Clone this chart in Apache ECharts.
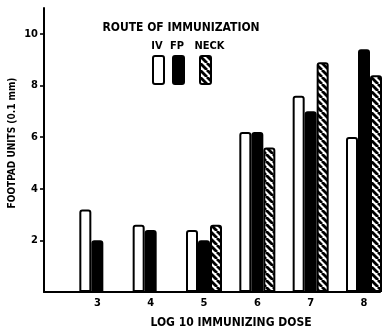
<!DOCTYPE html>
<html>
<head>
<meta charset="utf-8">
<script src="https://cdn.jsdelivr.net/npm/echarts@6/dist/echarts.min.js"></script>
<style>
html,body{margin:0;padding:0;background:#fff;}
#c{width:383px;height:330px;}
</style>
</head>
<body>
<div id="c"></div>
<script>
// ---- data ----
const doses = [3, 4, 5, 6, 7, 8];
const ivValues = [3.2, 2.6, 2.4, 6.2, 7.6, 6.0];
const fpValues = [2.0, 2.4, 2.0, 6.2, 7.0, 9.4];
const neckValues = [null, null, 2.6, 5.6, 8.9, 8.4];
const yTicks = [2, 4, 6, 8, 10];
const seriesNames = ['IV', 'FP', 'NECK'];
const legendTitle = 'ROUTE OF IMMUNIZATION';
const yName = 'FOOTPAD UNITS (0.1 mm)';
const xName = 'LOG 10 IMMUNIZING DOSE';

function pairs(vals) {
  return doses.map((d, i) => [d, vals[i]]).filter(p => p[1] !== null);
}

// hatch pattern
const P = 7;
const pc = document.createElement('canvas');
pc.width = P; pc.height = P;
const g = pc.getContext('2d');
g.fillStyle = '#fff'; g.fillRect(0, 0, P, P);
g.strokeStyle = '#000'; g.lineWidth = 2.8;
for (const o of [-P, 0, P]) {
  g.beginPath(); g.moveTo(o, 0); g.lineTo(o + P, P); g.stroke();
}
const hatch = { image: pc, repeat: 'repeat' };

const FONT = 'DejaVu Sans Condensed';
const bw = 12;
const border = { borderColor: '#000', borderWidth: 2, borderRadius: [2, 2, 0, 0] };
const boxIcon = 'path://M2,0H9Q11,0 11,2V26Q11,28 9,28H2Q0,28 0,26V2Q0,0 2,0Z';

const chart = echarts.init(document.getElementById('c'), null, { renderer: 'canvas' });
chart.setOption({
  animation: false,
  backgroundColor: '#fff',
  grid: { left: 44, right: 3, top: 8, bottom: 38, containLabel: false, outerBoundsMode: 'none' },
  xAxis: {
    type: 'value', min: 2, max: 8.3, interval: 1,
    splitLine: { show: false },
    axisLine: { show: true, lineStyle: { color: '#000', width: 2 } },
    axisTick: { show: false },
    axisLabel: {
      customValues: doses, color: '#000', fontWeight: 'bold', fontSize: 11,
      fontFamily: FONT, margin: 6
    },
    name: xName, nameLocation: 'middle', nameGap: 25,
    nameTextStyle: { color: '#000', fontWeight: 'bold', fontSize: 12, fontFamily: FONT, padding: [0, 0, 0, 38] }
  },
  yAxis: {
    type: 'value', min: 0, max: 11, interval: 2,
    splitLine: { show: false },
    axisLine: { show: true, lineStyle: { color: '#000', width: 2 } },
    axisTick: { show: true, customValues: yTicks, length: 4, lineStyle: { color: '#000', width: 1.6 } },
    axisLabel: {
      customValues: yTicks, color: '#000', fontWeight: 'bold', fontSize: 11,
      fontFamily: FONT, margin: 6
    },
    name: yName, nameLocation: 'middle', nameGap: 27, nameRotate: 90, nameMoveOverlap: false,
    nameTextStyle: { color: '#000', fontWeight: 'bold', fontSize: 10, fontFamily: FONT, padding: [0, 0, 0, 14] }
  },
  legend: [
    { data: [seriesNames[0]], left: 152, top: 55 },
    { data: [seriesNames[1]], left: 172, top: 55 },
    { data: [seriesNames[2]], left: 199, top: 55 }
  ].map(l => Object.assign(l, {
    itemWidth: 11, itemHeight: 28, icon: boxIcon, formatter: () => '',
    textStyle: { fontSize: 1 }, selectedMode: false, padding: 0, itemGap: 0
  })),
  graphic: [
    { type: 'text', x: 181, y: 28, style: { text: legendTitle, fill: '#000', font: 'bold 12px "' + FONT + '"', textAlign: 'center', textVerticalAlign: 'middle' } },
    { type: 'text', x: 157, y: 46, style: { text: seriesNames[0], fill: '#000', font: 'bold 11px "' + FONT + '"', textAlign: 'center', textVerticalAlign: 'middle' } },
    { type: 'text', x: 177, y: 46, style: { text: seriesNames[1], fill: '#000', font: 'bold 11px "' + FONT + '"', textAlign: 'center', textVerticalAlign: 'middle' } },
    { type: 'text', x: 209.5, y: 46, style: { text: seriesNames[2], fill: '#000', font: 'bold 11px "' + FONT + '"', textAlign: 'center', textVerticalAlign: 'middle' } }
  ],
  series: [
    { name: seriesNames[0], type: 'bar', barWidth: bw, barGap: '0%', data: pairs(ivValues),
      itemStyle: Object.assign({ color: '#fff' }, border) },
    { name: seriesNames[1], type: 'bar', barWidth: bw, barGap: '0%', data: pairs(fpValues),
      itemStyle: Object.assign({ color: '#000' }, border) },
    { name: seriesNames[2], type: 'bar', barWidth: bw, barGap: '0%', data: pairs(neckValues),
      itemStyle: Object.assign({ color: hatch }, border) }
  ]
});
</script>
</body>
</html>
